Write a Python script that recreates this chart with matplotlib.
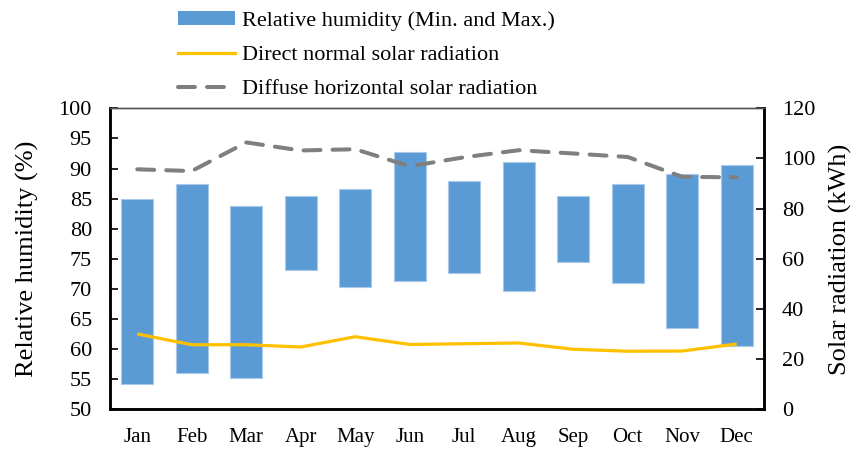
import numpy as np
import matplotlib.pyplot as plt
from matplotlib.patches import Patch
from matplotlib.lines import Line2D

months = ['Jan', 'Feb', 'Mar', 'Apr', 'May', 'Jun',
          'Jul', 'Aug', 'Sep', 'Oct', 'Nov', 'Dec']
rh_min = [54.2, 56.0, 55.3, 73.2, 70.3, 71.4, 72.6, 69.6, 74.5, 71.0, 63.5, 60.6]
rh_max = [84.9, 87.5, 83.7, 85.5, 86.6, 92.7, 87.9, 91.1, 85.4, 87.4, 89.1, 90.6]
direct_normal = [30.1, 25.8, 25.8, 24.9, 29.0, 25.9, 26.2, 26.5, 24.0, 23.2, 23.3, 26.1]
diffuse_horiz = [95.7, 95.0, 106.4, 103.2, 103.7, 96.9, 100.5, 103.3, 102.0, 100.6, 92.7, 92.5]

plt.rcParams['font.family'] = ['Liberation Serif', 'DejaVu Serif']

bar_col = '#5B9BD5'
sun_col = '#FFC000'
dif_col = '#7F7F7F'

fig = plt.figure(figsize=(8.58, 4.49), dpi=100)
ax = fig.add_axes([0.1282, 0.088, 0.7622, 0.6708])
ax2 = ax.twinx()

x = np.arange(len(months))
heights = [hi - lo for lo, hi in zip(rh_min, rh_max)]
ax.bar(x, heights, bottom=rh_min, width=0.58, color=bar_col,
       edgecolor='#A9C8EA', linewidth=0.8, zorder=2)

ax2.plot(x, direct_normal, color=sun_col, lw=2.3, solid_capstyle='butt')
ax2.plot(x, diffuse_horiz, color=dif_col, lw=2.9, dashes=(4.2, 3.0),
         dash_capstyle='round')

ax.set_xlim(-0.5, 11.5)
ax.set_ylim(50, 100)
ax.set_yticks(np.arange(50, 101, 5))
ax2.set_ylim(0, 120)
ax2.set_yticks(np.arange(0, 121, 20))

ax.set_xticks(x)
ax.set_xticklabels(months)
ax.tick_params(axis='x', length=0, pad=13, labelsize=15)
ax.tick_params(axis='y', direction='in', length=6, width=1.2, labelsize=16, pad=13)
ax2.tick_params(axis='y', direction='in', length=6, width=1.2, labelsize=16, pad=13)

ax.set_ylabel('Relative humidity (%)', fontsize=19, labelpad=14)
ax2.set_ylabel('Solar radiation (kWh)', fontsize=19, labelpad=10)

for a in (ax, ax2):
    a.spines['left'].set_linewidth(1.8)
    a.spines['right'].set_linewidth(1.8)
    a.spines['bottom'].set_linewidth(1.8)
    a.spines['top'].set_linewidth(1.0)
    a.spines['top'].set_color('#555555')

handles = [Patch(facecolor=bar_col, edgecolor='none'),
           Line2D([], [], color=sun_col, lw=2.3),
           Line2D([], [], color=dif_col, lw=2.9, dashes=(4.2, 3.0),
                  dash_capstyle='round')]
labels = ['Relative humidity (Min. and Max.)',
          'Direct normal solar radiation',
          'Diffuse horizontal solar radiation']
fig.legend(handles, labels, loc='upper left', bbox_to_anchor=(0.184, 1.02),
           frameon=False, fontsize=16, handlelength=2.57, handleheight=0.55,
           handletextpad=0.3, labelspacing=0.66)

fig.savefig('out.png', dpi=100)
